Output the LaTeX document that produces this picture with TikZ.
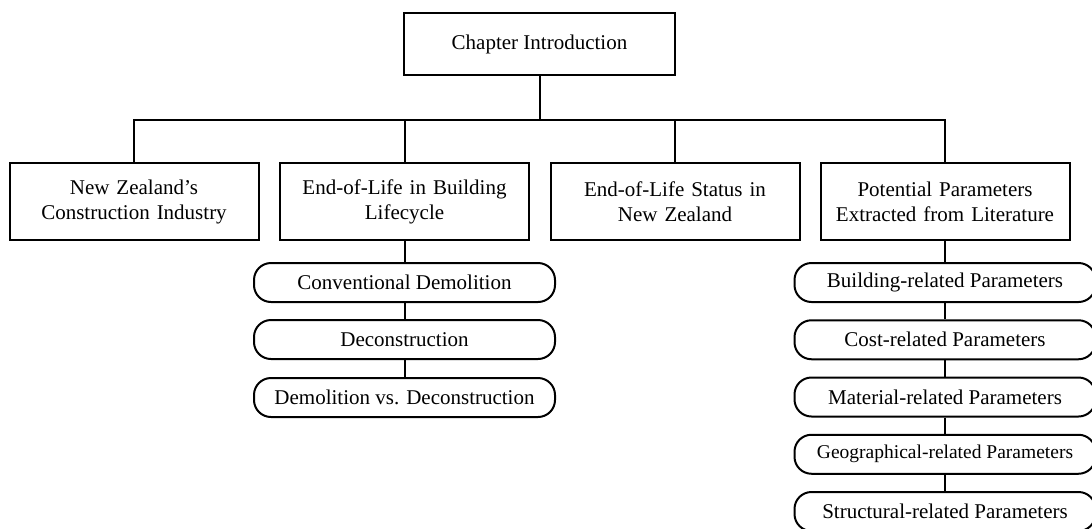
\documentclass[tikz,border=0pt]{standalone}
\usepackage{fontspec}
\setmainfont{Liberation Serif}
\usetikzlibrary{calc}

\begin{document}
\begin{tikzpicture}[x=1pt, y=-1pt, line width=2pt,
	every node/.style={font=\fontsize{21}{25}\selectfont, align=center, inner sep=0pt},
	head/.style={draw, minimum width=271pt, minimum height=62pt},
	topic/.style={draw, text width=240pt, minimum width=249pt, minimum height=77pt},
	item/.style={draw, rounded corners=17pt, minimum width=301pt, minimum height=39pt},
	link/.style={draw, line width=2pt}]
	\useasboundingbox (0,0) rectangle (1092,528);
	\node [head] (intro) at (539.5,44) {Chapter Introduction};
	\coordinate (bar) at (539.5,120);
	\node [topic] (nz) at (134,201.5) {New Zealand’s\\Construction Industry};
	\node [topic] (eol) at (404.5,201.5) {End-of-Life in Building\\Lifecycle};
	\node [topic] (status) at (675,201.5) {End-of-Life Status in\\New Zealand};
	\node [topic] (lit) at (945,201.5) {Potential Parameters\\Extracted from Literature};
	\draw [link] (intro.south) -- (intro.south |- bar);
	\draw [link] (nz.north) -- (nz.north |- bar) -- (lit.north |- bar) -- (lit.north);
	\draw [link] (eol.north) -- (eol.north |- bar);
	\draw [link] (status.north) -- (status.north |- bar);
	\node [item] (conv) at (404.5,282.5) {Conventional Demolition};
	\node [item] (decon) at (404.5,339.5) {Deconstruction};
	\node [item] (vs) at (404.5,397.5) {Demolition vs. Deconstruction};
	\draw [link] (eol.south) -- (conv.north);
	\draw [link] (conv.south) -- (decon.north);
	\draw [link] (decon.south) -- (vs.north);
	\foreach \i/\t/\f in {0/Building/21, 1/Cost/21, 2/Material/21, 3/Geographical/19.5, 4/Structural/21}{
		\node [item, font=\fontsize{\f}{25}\selectfont] (par\i) at (945,{282.5+57.25*\i}) {\t-related Parameters};
	}
	\draw [link] (lit.south) -- (par0.north);
	\foreach \i [count=\j] in {0,1,2,3}{
		\draw [link] (par\i.south) -- (par\j.north);
	}
\end{tikzpicture}
\end{document}
